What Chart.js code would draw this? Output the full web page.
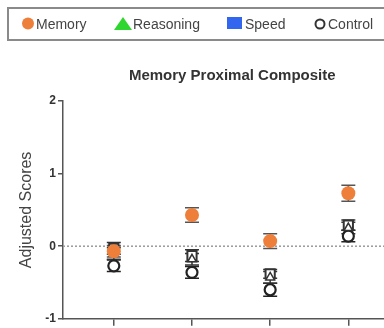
<!DOCTYPE html>
<html>
<head>
<meta charset="utf-8">
<script src="https://cdn.jsdelivr.net/npm/chart.js@4/dist/chart.umd.min.js"></script>
<style>
  html, body { margin: 0; padding: 0; background: #fff; }
  body { width: 384px; height: 328px; overflow: hidden; position: relative; font-family: "Liberation Sans", Arial, sans-serif; }
  #wrap { position: absolute; left: 0; top: 0; width: 410px; height: 328px; }
  #legendBox { position: absolute; left: 7px; top: 7px; width: 400px; height: 30px; border: 2px solid #8a8a8a; }
  #legendSvg { position: absolute; left: 0; top: 0; }
  .lt { position: absolute; top: 15px; height: 18px; line-height: 18px; font-size: 14px; color: #444; white-space: nowrap; }
</style>
</head>
<body>
<div id="wrap"><canvas id="c" width="410" height="328"></canvas></div>
<div id="legendBox"></div>
<svg id="legendSvg" width="384" height="50">
  <circle cx="28" cy="23.5" r="6" fill="#EE7F3A"/>
  <polygon points="114,30 132,30 123,17" fill="#2FD62F"/>
  <rect x="227" y="17" width="15" height="12" fill="#3366EE"/>
  <circle cx="320" cy="24" r="4.5" fill="#fff" stroke="#333" stroke-width="2"/>
</svg>
<span class="lt" style="left:36px">Memory</span>
<span class="lt" style="left:133px">Reasoning</span>
<span class="lt" style="left:245px">Speed</span>
<span class="lt" style="left:328px">Control</span>
<script>
// ---- data ----
const categories = [1, 2, 3, 4];
const memory      = [-0.07, 0.43, 0.07, 0.73];
const memoryErr   = [0.08, 0.10, 0.10, 0.11];
const reasoning   = [-0.10, -0.18, -0.43, 0.25];
const reasoningErr= [0.08, 0.08, 0.08, 0.08];
const speed       = [-0.03, -0.13, -0.38, 0.29];
const speedErr    = [0.08, 0.08, 0.06, 0.07];
const control     = [-0.27, -0.36, -0.60, 0.14];
const controlErr  = [0.08, 0.08, 0.09, 0.08];
const yTicks      = [-1, 0, 1, 2];

Chart.defaults.font.family = '"Liberation Sans", Arial, sans-serif';

const toPts = (vals, errs) => categories.map((x, i) => ({ x: x, y: vals[i], err: errs[i] }));

const errorBars = {
  id: 'errorBars',
  beforeDatasetsDraw(chart) {
    const ctx = chart.ctx;
    const ys = chart.scales.y, xs = chart.scales.x;
    // zero reference line
    const y0 = ys.getPixelForValue(0);
    ctx.save();
    ctx.strokeStyle = '#9a9a9a';
    ctx.lineWidth = 1.5;
    ctx.setLineDash([2, 2]);
    ctx.beginPath();
    ctx.moveTo(chart.chartArea.left, y0);
    ctx.lineTo(chart.chartArea.right, y0);
    ctx.stroke();
    ctx.setLineDash([]);
    // error bars, from the bottom dataset up
    for (let d = chart.data.datasets.length - 1; d >= 0; d--) {
      const ds = chart.data.datasets[d];
      ctx.strokeStyle = ds.errColor;
      ctx.lineWidth = 1.5;
      ds.data.forEach(p => {
        const px = xs.getPixelForValue(p.x);
        const top = ys.getPixelForValue(p.y + p.err);
        const bot = ys.getPixelForValue(p.y - p.err);
        ctx.beginPath();
        ctx.moveTo(px, top); ctx.lineTo(px, bot);
        ctx.moveTo(px - 7, top); ctx.lineTo(px + 7, top);
        ctx.moveTo(px - 7, bot); ctx.lineTo(px + 7, bot);
        ctx.stroke();
      });
    }
    ctx.restore();
  }
};

new Chart(document.getElementById('c'), {
  type: 'scatter',
  data: {
    datasets: [
      { label: 'Memory', data: toPts(memory, memoryErr), pointStyle: 'circle', pointRadius: 7,
        backgroundColor: '#EE7F3A', borderColor: '#EE7F3A', borderWidth: 0, errColor: '#555' },
      { label: 'Reasoning', data: toPts(reasoning, reasoningErr), pointStyle: 'triangle', pointRadius: 5,
        backgroundColor: '#fff', borderColor: '#333', borderWidth: 1.5, errColor: '#333' },
      { label: 'Speed', data: toPts(speed, speedErr), pointStyle: 'rect', pointRadius: 6.5,
        backgroundColor: '#fff', borderColor: '#333', borderWidth: 2, errColor: '#333' },
      { label: 'Control', data: toPts(control, controlErr), pointStyle: 'circle', pointRadius: 5.5,
        backgroundColor: '#fff', borderColor: '#222', borderWidth: 2.2, errColor: '#222' }
    ]
  },
  options: {
    responsive: false,
    animation: false,
    layout: { padding: 0 },
    plugins: {
      legend: { display: false },
      tooltip: { enabled: false },
      title: {
        display: true, text: 'Memory Proximal Composite', fullSize: false,
        color: '#333', font: { size: 15, weight: 'bold' },
        padding: { top: 67, bottom: 16 }
      }
    },
    scales: {
      x: {
        type: 'linear', min: 0.35, max: 4.68,
        afterBuildTicks: s => { s.ticks = categories.map(v => ({ value: v })); },
        ticks: { display: false },
        grid: { drawOnChartArea: false, drawTicks: true, tickLength: 7, color: '#555', lineWidth: 1.5 },
        border: { color: '#555', width: 1.5 }
      },
      y: {
        min: -1, max: 2,
        afterBuildTicks: s => { s.ticks = yTicks.map(v => ({ value: v })); },
        afterFit: s => { s.width = 63; },
        ticks: { color: '#333', font: { size: 12, weight: 'bold' }, padding: 2 },
        grid: { drawOnChartArea: false, drawTicks: true, tickLength: 5, color: '#555', lineWidth: 1.5 },
        border: { color: '#555', width: 1.5 },
        title: { display: true, text: 'Adjusted Scores', color: '#444', font: { size: 16 }, padding: { top: 17, bottom: 0 } }
      }
    }
  },
  plugins: [errorBars]
});
</script>
</body>
</html>
